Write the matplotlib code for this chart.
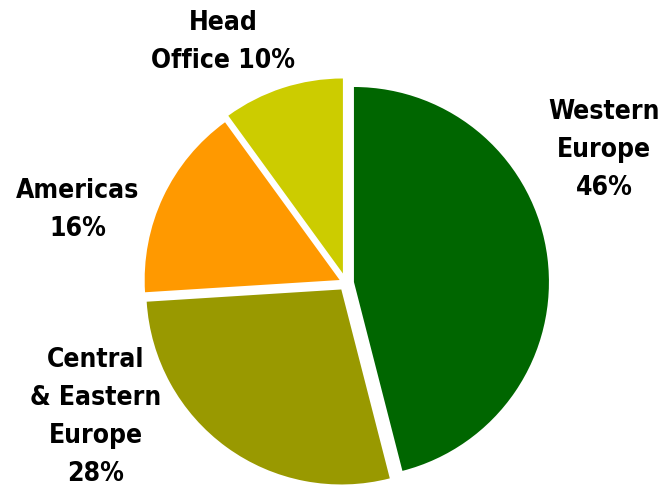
import matplotlib.pyplot as plt

plt.rcParams['font.family'] = ['DejaVu Sans']

# revenue split by region
regions = ['Western\nEurope', 'Central\n& Eastern\nEurope', 'Americas', 'Head\nOffice']
shares = [46, 28, 16, 10]
colors = ['#006600', '#999900', '#FF9900', '#CCCC00']

W, H = 665, 486
R = 195
# pie explode is in data units here (axes are in pixels)
explode = [8, 8, 7, 10]

fig = plt.figure(figsize=(W / 100, H / 100), dpi=100)
ax = fig.add_axes([0, 0, 1, 1])

ax.pie(shares, colors=colors, explode=explode, startangle=90,
       counterclock=False, center=(346, H - 283), radius=R,
       frame=True, wedgeprops=dict(linewidth=0))
ax.set_xlim(0, W)
ax.set_ylim(0, H)
ax.set_aspect('equal')
ax.axis('off')

# labels sit outside the pie (positions in pixels from top-left)
label_pos = [(604, 150), (96, 417), (78, 210), (223, 42)]
for name, val, (x, y) in zip(regions, shares, label_pos):
    if name == 'Head\nOffice':
        txt = 'Head\nOffice %d%%' % val
    else:
        txt = '%s\n%d%%' % (name, val)
    ax.text(x, H - y, txt, ha='center', va='center', fontsize=19,
            fontweight='bold', fontstretch='condensed', linespacing=1.6)

fig.savefig('out.png', dpi=100)
